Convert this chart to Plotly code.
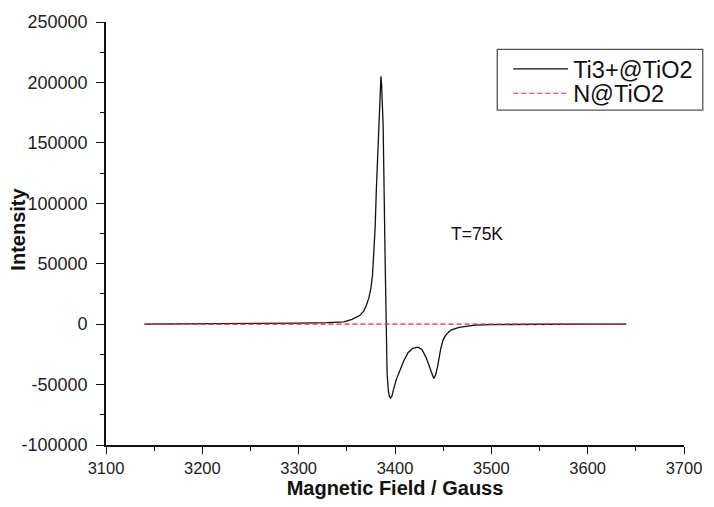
import plotly.graph_objects as go

# EPR spectrum of Ti3+@TiO2 at 75 K (field in Gauss, intensity in a.u.)
field_ti = [3140, 3200, 3250, 3278.6, 3300, 3329.8, 3346.9, 3355.4, 3363.6,
            3367.5, 3370.3, 3372.8, 3374.9, 3376.6, 3378.0, 3379.4, 3380.6,
            3383.2, 3384.7, 3385.4, 3386.1, 3387.7, 3389.7, 3390.6, 3391.8,
            3393.1, 3394.3, 3395.4, 3396.8, 3398.5, 3401.5, 3404.9, 3409.0,
            3413.5, 3418.5, 3423.8, 3428.0, 3432.3, 3435.0, 3437.4, 3440.2,
            3442.2, 3444.3, 3447.6, 3450.0, 3452.8, 3458.0, 3466.4, 3475.0,
            3483.5, 3500, 3520, 3560, 3600, 3640]
intensity_ti = [0, 150, 300, 500, 800, 1200, 1900, 4000, 7300,
                10800, 15600, 21500, 29300, 40000, 56100, 80000, 110600,
                164200, 196000, 205000, 198000, 164000, 56000, 0, -41000,
                -55000, -60000, -61200, -59500, -54000, -45500, -38800, -30500,
                -23600, -20000, -19000, -21000, -27700, -34000, -40000, -45000,
                -42000, -34700, -19800, -13000, -8900, -5000, -2700, -1500,
                -800, -400, -200, -100, -50, 0]

# N-doped TiO2 reference: no signal over the same sweep
field_n = [3140, 3190, 3240, 3290, 3340, 3390, 3440, 3490, 3540, 3590, 3640]
intensity_n = [0, 0, 0, 0, 0, 0, 0, 0, 0, 0, 0]

series_names = ["Ti3+@TiO2", "N@TiO2"]

x_tick_vals = [3100, 3200, 3300, 3400, 3500, 3600, 3700]
x_tick_text = ["3100", "3200", "3300", "3400", "3500", "3600", "3700"]
y_tick_vals = [-100000, -50000, 0, 50000, 100000, 150000, 200000, 250000]
y_tick_text = ["-100000", "-50000", "0", "50000", "100000", "150000",
               "200000", "250000"]

FONT = "Liberation Sans, Arial, sans-serif"
INK = "#111111"

# plot-area geometry in pixels, used to place paper-referenced items
L, R, T, B = 106, 23, 21, 54
W, H = 714, 507
PW, PH = W - L - R, H - T - B


def px_x(px):
    return (px - L) / PW


def px_y(py):
    return (H - B - py) / PH


fig = go.Figure()
fig.add_trace(go.Scatter(
    x=field_ti, y=intensity_ti, mode="lines", name=series_names[0],
    legend="legend",
    line=dict(color=INK, width=1.3)))
fig.add_trace(go.Scatter(
    x=field_n, y=intensity_n, mode="lines", name=series_names[1],
    legend="legend2",
    line=dict(color="#e0262a", width=1.2, dash="5px,3px")))

axis_common = dict(
    showline=True, linecolor=INK, linewidth=1.6,
    ticks="outside", tickcolor=INK, tickwidth=1.4,
    showgrid=False, zeroline=False, mirror=False,
)

fig.update_xaxes(
    range=[3100, 3700], tickvals=x_tick_vals, ticktext=x_tick_text,
    ticklen=7, tickfont=dict(family=FONT, size=16.5, color="#222222"),
    minor=dict(ticks="outside", ticklen=4, dtick=50, tick0=3100,
               tickcolor=INK, tickwidth=1.4),
    title=dict(text="<b>Magnetic Field / Gauss</b>", standoff=4,
               font=dict(family=FONT, size=20, color=INK)),
    **axis_common)
fig.update_yaxes(
    range=[-100000, 250000], tickvals=y_tick_vals, ticktext=y_tick_text,
    ticklen=8, ticklabelstandoff=5,
    tickfont=dict(family=FONT, size=18, color="#222222"),
    minor=dict(ticks="outside", ticklen=4, dtick=25000, tick0=0,
               tickcolor=INK, tickwidth=1.4),
    **axis_common)

# y-axis title, placed close to the tick labels
fig.add_annotation(xref="paper", yref="paper", x=px_x(17), y=px_y(233),
                   text="<b>Intensity</b>", textangle=-90, showarrow=False,
                   xanchor="center", yanchor="middle",
                   font=dict(family=FONT, size=20, color=INK))

# legend frame
fig.add_shape(type="rect", xref="paper", yref="paper",
              x0=px_x(502), x1=px_x(710), y0=px_y(111), y1=px_y(49),
              line=dict(color="#555555", width=1.3), fillcolor="rgba(0,0,0,0)")

fig.add_annotation(x=3485, y=75000, text="T=75K", showarrow=False,
                   font=dict(family=FONT, size=17.5, color=INK))

legend_style = dict(xanchor="left", yanchor="middle",
                    bgcolor="rgba(0,0,0,0)", borderwidth=0, itemwidth=55,
                    font=dict(family=FONT, size=23.5, color=INK))

fig.update_layout(
    width=W, height=H,
    margin=dict(l=L, r=R, t=T, b=B),
    paper_bgcolor="white", plot_bgcolor="white",
    showlegend=True,
    legend=dict(x=px_x(513), y=px_y(69), **legend_style),
    legend2=dict(x=px_x(513), y=px_y(94), **legend_style),
)

fig.write_html("out.html")
